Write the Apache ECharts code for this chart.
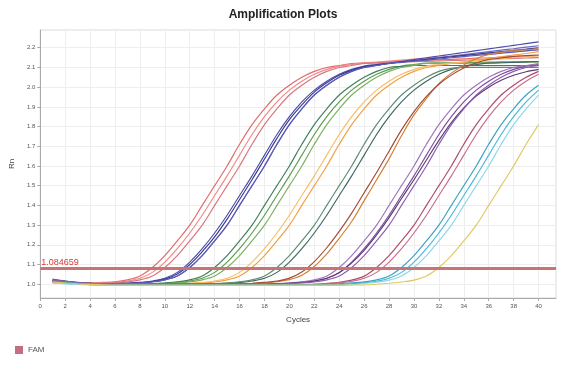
<!DOCTYPE html>
<html><head><meta charset="utf-8">
<script src="https://cdn.jsdelivr.net/npm/echarts@6/dist/echarts.min.js"></script>
<style>html,body{margin:0;padding:0;background:#fff}#c{width:566px;height:372px}</style>
</head><body><div id="c"></div>
<script>
const chartTitle = 'Amplification Plots';
const xAxisName = 'Cycles';
const yAxisName = 'Rn';
const legendName = 'FAM';
const threshold = 1.084659;
const cycles = [1,2,3,4,5,6,7,8,9,10,11,12,13,14,15,16,17,18,19,20,21,22,23,24,25,26,27,28,29,30,31,32,33,34,35,36,37,38,39,40];

const P1 = [1.018,1.012,1.007,1.007,1.009,1.012,1.022,1.042,1.085,1.145,1.22,1.30,1.40,1.50,1.60,1.71,1.81,1.89,1.96,2.01,2.05,2.08,2.10,2.11,2.12,2.123,2.125,2.128,2.131,2.133,2.136,2.139,2.141,2.144,2.147,2.149,2.152,2.155,2.157,2.16];
const P2 = [1.022,1.014,1.008,1.006,1.007,1.009,1.016,1.03,1.06,1.112,1.18,1.26,1.35,1.45,1.55,1.655,1.76,1.85,1.925,1.985,2.03,2.065,2.09,2.107,2.115,2.122,2.127,2.132,2.137,2.142,2.146,2.151,2.156,2.161,2.166,2.171,2.176,2.181,2.185,2.19];
const P3 = [1.015,1.010,1.006,1.004,1.005,1.007,1.012,1.022,1.042,1.085,1.145,1.22,1.30,1.40,1.50,1.60,1.71,1.81,1.89,1.96,2.01,2.05,2.08,2.10,2.11,2.12,2.122,2.124,2.126,2.129,2.131,2.133,2.135,2.137,2.139,2.141,2.144,2.146,2.148,2.15];
const B1 = [1.02,1.013,1.007,1.004,1.002,1.002,1.005,1.009,1.016,1.03,1.06,1.112,1.18,1.26,1.35,1.45,1.55,1.655,1.76,1.85,1.925,1.985,2.03,2.065,2.09,2.107,2.115,2.122,2.131,2.14,2.149,2.158,2.167,2.176,2.185,2.194,2.203,2.212,2.221,2.23];
const B2 = [1.016,1.011,1.006,1.003,1.001,1.000,1.003,1.007,1.012,1.022,1.042,1.085,1.145,1.22,1.30,1.40,1.50,1.60,1.71,1.81,1.89,1.96,2.01,2.05,2.08,2.10,2.11,2.12,2.128,2.135,2.143,2.15,2.158,2.165,2.173,2.18,2.188,2.195,2.203,2.21];
const B3 = [1.012,1.008,1.005,1.003,1.002,1.002,1.004,1.008,1.014,1.026,1.052,1.10,1.165,1.24,1.33,1.43,1.53,1.635,1.74,1.835,1.91,1.975,2.022,2.06,2.085,2.104,2.113,2.12,2.128,2.135,2.141,2.148,2.154,2.161,2.167,2.174,2.18,2.187,2.193,2.20];
const B4 = [1.026,1.016,1.008,1.003,1.001,1.000,1.003,1.007,1.012,1.022,1.042,1.085,1.145,1.22,1.30,1.40,1.50,1.60,1.71,1.81,1.89,1.96,2.01,2.05,2.08,2.10,2.11,2.12,2.126,2.132,2.137,2.143,2.149,2.155,2.161,2.166,2.172,2.178,2.184,2.19];
const G1 = [1.019,1.012,1.007,1.004,1.002,1.000,1.000,1.000,1.002,1.005,1.009,1.016,1.03,1.06,1.112,1.18,1.26,1.35,1.45,1.55,1.655,1.76,1.85,1.925,1.985,2.03,2.065,2.09,2.107,2.115,2.122,2.123,2.124,2.125,2.126,2.127,2.128,2.129,2.129,2.13];
const G2 = [1.014,1.009,1.005,1.003,1.001,1.000,1.000,1.000,1.003,1.007,1.012,1.022,1.042,1.085,1.145,1.22,1.30,1.40,1.50,1.60,1.71,1.81,1.89,1.96,2.01,2.05,2.08,2.10,2.105,2.11,2.11,2.11,2.11,2.11,2.11,2.11,2.11,2.11,2.11,2.11];
const G3 = [1.021,1.013,1.007,1.004,1.002,1.000,1.000,1.000,1.000,1.003,1.007,1.012,1.022,1.042,1.085,1.145,1.22,1.30,1.40,1.50,1.60,1.71,1.81,1.89,1.96,2.01,2.05,2.08,2.10,2.11,2.12,2.12,2.12,2.121,2.122,2.123,2.124,2.125,2.126,2.127];
const O1 = [1.017,1.011,1.006,1.003,1.001,1.000,1.000,1.000,1.000,1.000,1.000,1.003,1.007,1.012,1.022,1.042,1.085,1.145,1.22,1.30,1.40,1.50,1.60,1.71,1.81,1.89,1.96,2.01,2.05,2.08,2.10,2.11,2.12,2.129,2.137,2.146,2.154,2.163,2.171,2.18];
const O2 = [1.013,1.009,1.005,1.003,1.001,1.000,1.000,1.000,1.000,1.000,1.002,1.005,1.009,1.016,1.03,1.06,1.112,1.18,1.26,1.35,1.45,1.55,1.655,1.76,1.85,1.925,1.985,2.03,2.065,2.09,2.107,2.115,2.122,2.127,2.133,2.138,2.144,2.149,2.155,2.16];
const T1 = [1.024,1.016,1.009,1.005,1.003,1.001,1.000,1.000,1.000,1.000,1.000,1.000,1.000,1.002,1.005,1.009,1.016,1.03,1.06,1.112,1.18,1.26,1.35,1.45,1.55,1.655,1.76,1.85,1.925,1.985,2.03,2.065,2.09,2.107,2.115,2.122,2.124,2.126,2.128,2.13];
const T2 = [1.015,1.01,1.006,1.003,1.001,1.000,1.000,1.000,1.000,1.000,1.000,1.000,1.000,1.003,1.007,1.012,1.022,1.042,1.085,1.145,1.22,1.30,1.40,1.50,1.60,1.71,1.81,1.89,1.96,2.01,2.05,2.08,2.095,2.10,2.10,2.10,2.10,2.10,2.10,2.10];
const R1 = [1.018,1.012,1.007,1.004,1.002,1.000,1.000,1.000,1.000,1.000,1.000,1.000,1.000,1.000,1.000,1.000,1.003,1.007,1.013,1.023,1.045,1.09,1.154,1.233,1.318,1.424,1.53,1.636,1.753,1.859,1.943,2.018,2.071,2.113,2.145,2.166,2.177,2.187,2.19,2.195];
const R2 = [1.014,1.01,1.006,1.003,1.001,1.000,1.000,1.000,1.000,1.000,1.000,1.000,1.000,1.000,1.000,1.002,1.005,1.009,1.016,1.031,1.062,1.115,1.185,1.268,1.361,1.464,1.567,1.675,1.783,1.876,1.953,2.015,2.061,2.097,2.123,2.14,2.148,2.156,2.16,2.163];
const U1 = [1.02,1.013,1.007,1.004,1.002,1.000,1.000,1.000,1.000,1.000,1.000,1.000,1.000,1.000,1.000,1.000,1.000,1.000,1.002,1.005,1.009,1.016,1.03,1.06,1.112,1.18,1.26,1.35,1.45,1.55,1.655,1.76,1.85,1.925,1.985,2.03,2.065,2.09,2.107,2.115];
const U2 = [1.016,1.011,1.006,1.003,1.001,1.000,1.000,1.000,1.000,1.000,1.000,1.000,1.000,1.000,1.000,1.000,1.000,1.000,1.003,1.007,1.012,1.022,1.042,1.085,1.145,1.22,1.30,1.40,1.50,1.60,1.71,1.81,1.89,1.96,2.01,2.05,2.08,2.10,2.11,2.12];
const U3 = [1.012,1.008,1.005,1.003,1.001,1.000,1.000,1.000,1.000,1.000,1.000,1.000,1.000,1.000,1.000,1.000,1.000,1.000,1.002,1.005,1.009,1.016,1.03,1.058,1.108,1.172,1.25,1.338,1.435,1.53,1.63,1.73,1.82,1.895,1.955,2.0,2.035,2.06,2.078,2.09];
const U4 = [1.022,1.014,1.008,1.004,1.002,1.000,1.000,1.000,1.000,1.000,1.000,1.000,1.000,1.000,1.000,1.000,1.000,1.000,1.000,1.003,1.007,1.012,1.022,1.042,1.085,1.145,1.22,1.30,1.40,1.50,1.60,1.71,1.81,1.89,1.96,2.01,2.05,2.08,2.10,2.11];
const M1 = [1.012,1.007,1.003,1.000,0.998,0.996,0.996,0.996,0.996,0.996,0.996,0.996,0.996,0.996,0.996,0.996,0.996,0.996,0.996,0.996,0.996,0.999,1.004,1.010,1.021,1.041,1.085,1.145,1.22,1.30,1.40,1.50,1.60,1.71,1.81,1.89,1.96,2.01,2.05,2.08];
const M2 = [1.008,1.004,1.001,0.998,0.997,0.996,0.996,0.996,0.996,0.996,0.996,0.996,0.996,0.996,0.996,0.996,0.996,0.996,0.996,0.996,0.996,0.998,1.002,1.007,1.015,1.03,1.06,1.112,1.18,1.26,1.35,1.45,1.55,1.655,1.76,1.85,1.925,1.985,2.03,2.065];
const C1 = [1.010,1.005,1.001,0.998,0.996,0.995,0.995,0.995,0.995,0.995,0.995,0.995,0.995,0.995,0.995,0.995,0.995,0.995,0.995,0.995,0.995,0.995,0.995,0.998,1.002,1.007,1.015,1.03,1.06,1.112,1.18,1.26,1.35,1.45,1.55,1.655,1.76,1.85,1.925,1.985];
const C2 = [1.006,1.002,0.999,0.997,0.995,0.994,0.994,0.994,0.994,0.994,0.994,0.994,0.994,0.994,0.994,0.994,0.994,0.994,0.994,0.994,0.994,0.994,0.994,0.994,0.998,1.004,1.010,1.021,1.042,1.085,1.145,1.22,1.30,1.40,1.50,1.60,1.71,1.81,1.89,1.96];
const C3 = [1.013,1.009,1.005,1.003,1.001,1.000,1.000,1.000,1.000,1.000,1.000,1.000,1.000,1.000,1.000,1.000,1.000,1.000,1.000,1.000,1.000,1.000,1.000,1.003,1.007,1.012,1.022,1.042,1.085,1.145,1.22,1.30,1.40,1.50,1.60,1.71,1.81,1.89,1.96,2.01];
const Y1 = [1.012,1.006,1.002,0.999,0.997,0.996,0.996,0.996,0.996,0.996,0.996,0.996,0.996,0.996,0.996,0.996,0.996,0.996,0.996,0.996,0.996,0.996,0.996,0.996,0.996,0.996,1.000,1.005,1.011,1.021,1.042,1.085,1.145,1.22,1.30,1.40,1.50,1.60,1.71,1.81];

const curves = [P1,P2,P3,B1,B2,B3,B4,G1,G2,G3,O1,O2,T1,T2,R1,R2,U1,U2,U3,U4,M1,M2,C1,C2,C3,Y1];
const curveColors = ['#e06a6a','#f08888','#d9747e','#4c4caa','#6a6ac2','#3a3a8e','#5a5ab8','#5c9a4c','#3e7e5e','#7ab062','#f0a040','#f6bc66','#3f6464','#5e8c72','#d08030','#a04a3a','#7c4c9c','#a274ba','#5e3a78','#8e5eae','#b04a6a','#c86c8a','#48b8d8','#8ad8ea','#3aa2c2','#e2c862'];

const chart = echarts.init(document.getElementById('c'), null, {renderer: 'canvas'});
const series = curves.map((vals, i) => ({
  name: legendName,
  type: 'line',
  data: cycles.map((c, j) => [c, vals[j]]),
  showSymbol: false,
  smooth: 0.35,
  lineStyle: {color: curveColors[i], width: 1.15},
  itemStyle: {color: curveColors[i]},
  silent: true,
  z: 2
}));
series.push({
  name: 'threshold',
  type: 'line',
  data: [],
  markLine: {
    silent: true,
    symbol: ['none', 'none'],
    data: [{yAxis: threshold}],
    lineStyle: {color: '#c97474', width: 3, type: 'solid'},
    label: {position: 'insideStartTop', formatter: String(threshold), color: '#d83a3a', fontSize: 9, distance: 1, fontFamily: 'Liberation Sans'}
  },
  z: 3
});

chart.setOption({
  animation: false,
  backgroundColor: '#ffffff',
  title: {text: chartTitle, left: 'center', top: 4,
    textStyle: {fontSize: 12, fontWeight: 'bold', color: '#222', fontFamily: 'Liberation Sans'}},
  legend: {left: 10, top: 341, icon: 'rect', itemWidth: 8, itemHeight: 8, itemGap: 4,
    textStyle: {fontSize: 8, color: '#555', fontFamily: 'Liberation Sans'},
    data: [{name: legendName, itemStyle: {color: '#c46e84'}}]},
  grid: {left: 40, right: 10, top: 30, bottom: 74, show: true, borderColor: '#d6d6d6', borderWidth: 1},
  xAxis: {
    type: 'value', min: 0, max: 41.4, splitNumber: 20,
    name: xAxisName, nameLocation: 'middle', nameGap: 18,
    nameTextStyle: {fontSize: 8, color: '#444', fontFamily: 'Liberation Sans'},
    axisLine: {show: true, lineStyle: {color: '#aaa'}},
    axisTick: {show: true, length: 3, lineStyle: {color: '#aaa'}},
    axisLabel: {fontSize: 6, color: '#555', margin: 5, showMaxLabel: false, fontFamily: 'Liberation Sans'},
    splitLine: {show: true, lineStyle: {color: '#eeeeee', width: 1}}
  },
  yAxis: {
    type: 'value', min: 0.93, max: 2.29, splitNumber: 14,
    name: yAxisName, nameLocation: 'middle', nameGap: 22, nameRotate: 90,
    nameTextStyle: {fontSize: 8, color: '#444', fontFamily: 'Liberation Sans'},
    axisLine: {show: true, lineStyle: {color: '#aaa'}},
    axisTick: {show: true, length: 3, lineStyle: {color: '#aaa'}},
    axisLabel: {fontSize: 6, color: '#555', margin: 5, showMinLabel: false, showMaxLabel: false,
      fontFamily: 'Liberation Sans', formatter: v => v.toFixed(1)},
    splitLine: {show: true, lineStyle: {color: '#eeeeee', width: 1}}
  },
  series: series
});
</script>
</body></html>
